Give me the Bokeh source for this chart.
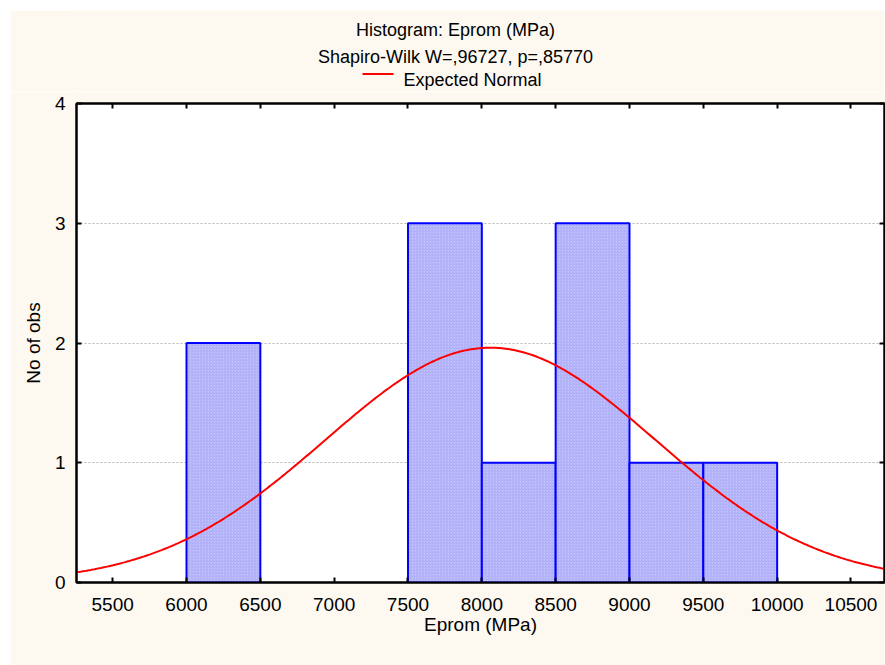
import numpy as np
from bokeh.plotting import figure
from bokeh.models import Range1d, LinearAxis, FixedTicker, Spacer
from bokeh.core.properties import value
from bokeh.layouts import column, row
from bokeh.embed import file_html
from bokeh.resources import INLINE

# Histogram bins (MPa) and observed counts
bin_left = [6000, 7500, 8000, 8500, 9000, 9500]
bin_right = [6500, 8000, 8500, 9000, 9500, 10000]
counts = [2, 3, 1, 3, 1, 1]

# Axis ticks
x_ticks = [5500, 6000, 6500, 7000, 7500, 8000, 8500, 9000, 9500, 10000, 10500]
y_ticks = [0, 1, 2, 3, 4]
grid_ticks = [1, 2, 3]

# Fitted normal distribution parameters
fit_mean = 8058.0
fit_sd = 1119.0
bin_width = 500.0
n_obs = sum(counts)

x_min, x_max = 5255, 10727

title_text = "Histogram: Eprom (MPa)"
subtitle_text = "Shapiro-Wilk W=,96727, p=,85770"
legend_text = "Expected Normal"

FONT = "Liberation Sans"
CREAM = "#fdf9f0"
RED = "#ff0000"

PAD = 10            # white margin above and left of the chart
HEAD_H = 81         # height of the header strip
FRAME_L, FRAME_R, FRAME_T = 76, 884, 103

# ---- header strip: title, test statistic and legend ----
# Its frame shares the plot's horizontal extent, so header x coordinates
# are expressed in page pixels.
head = figure(width=875, height=HEAD_H, output_backend="svg", toolbar_location=None,
              title=None, x_axis_type=None, y_axis_type=None,
              x_range=Range1d(FRAME_L, FRAME_R), y_range=Range1d(PAD + HEAD_H, PAD),
              min_border=0, background_fill_color=CREAM,
              border_fill_color=CREAM, outline_line_color=None)
head.grid.visible = False
head.text(x=[455, 455], y=[29, 56], text=[title_text, subtitle_text],
          text_align="center", text_baseline="alphabetic",
          text_font=value(FONT), text_font_size="18px", text_color="black")
head.line(x=[362, 393], y=[73.5, 73.5], line_color=RED, line_width=2)
head.text(x=[403], y=[79], text=[legend_text], text_align="left",
          text_baseline="alphabetic", text_font=value(FONT),
          text_font_size="18px", text_color="black")

# ---- histogram plot ----
p = figure(width=875, height=655 - HEAD_H, output_backend="svg", toolbar_location=None,
           x_range=Range1d(x_min, x_max), y_range=Range1d(0, 4),
           min_border_left=FRAME_L - PAD, min_border_top=FRAME_T - PAD - HEAD_H,
           min_border_bottom=83, min_border_right=1,
           background_fill_color="white", border_fill_color=CREAM,
           outline_line_color="black", outline_line_width=2)

p.quad(left=bin_left, right=bin_right, bottom=0, top=counts,
       fill_color="#c4c4ff", hatch_pattern="right_diagonal_line",
       hatch_color="#9c9cf0", hatch_scale=3, hatch_weight=0.7,
       line_color="#0000ff", line_width=2)

# Expected normal curve scaled to counts per bin
xs = np.linspace(x_min, x_max, 400)
ys = n_obs * bin_width * np.exp(-0.5 * ((xs - fit_mean) / fit_sd) ** 2) / (fit_sd * np.sqrt(2 * np.pi))
p.line(xs, ys, line_color=RED, line_width=2)

p.xgrid.visible = False
p.ygrid.ticker = FixedTicker(ticks=grid_ticks)
p.ygrid.grid_line_color = "#b4b4b4"
p.ygrid.grid_line_dash = "2 2"

def style_axis(ax, ticks, show_labels=True):
    ax.ticker = FixedTicker(ticks=ticks)
    ax.major_tick_in = 5
    ax.major_tick_out = 0
    ax.minor_tick_line_color = None
    ax.major_tick_line_color = "black"
    ax.major_tick_line_width = 2
    ax.axis_line_color = "black"
    ax.axis_line_width = 2
    ax.major_label_text_font = FONT
    ax.major_label_text_color = "black"
    ax.major_label_text_font_size = "19px"
    if not show_labels:
        ax.major_label_overrides = {t: "" for t in ticks}
        ax.major_label_standoff = 0

bottom_axis = p.xaxis[0]
left_axis = p.yaxis[0]
style_axis(bottom_axis, x_ticks)
style_axis(left_axis, y_ticks)
bottom_axis.major_label_standoff = 15
left_axis.major_label_standoff = 11

top_axis = LinearAxis()
style_axis(top_axis, x_ticks, show_labels=False)
p.add_layout(top_axis, "above")

right_axis = LinearAxis()
style_axis(right_axis, y_ticks, show_labels=False)
p.add_layout(right_axis, "right")

bottom_axis.axis_label = "Eprom (MPa)"
left_axis.axis_label = "No of obs"
for ax in (bottom_axis, left_axis):
    ax.axis_label_text_font = FONT
    ax.axis_label_text_font_size = "19px"
    ax.axis_label_text_font_style = "normal"
    ax.axis_label_text_color = "black"
bottom_axis.axis_label_standoff = 0
left_axis.axis_label_standoff = 8

layout = column(Spacer(width=885, height=PAD),
                row(Spacer(width=PAD, height=655),
                    column(head, p)))

open("out.html", "w").write(file_html(layout, INLINE))
